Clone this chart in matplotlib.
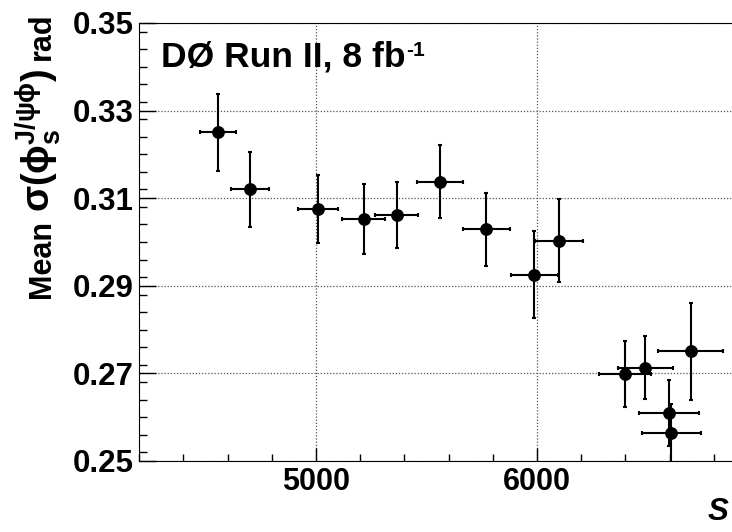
import matplotlib
matplotlib.use("Agg")
import matplotlib.pyplot as plt
from matplotlib.ticker import MultipleLocator
from matplotlib.transforms import IdentityTransform

plt.rcParams['font.family'] = ['Liberation Sans', 'DejaVu Sans']
plt.rcParams['font.weight'] = 'bold'
plt.rcParams['mathtext.fontset'] = 'custom'
plt.rcParams['mathtext.rm'] = 'DejaVu Sans:normal'
plt.rcParams['mathtext.bf'] = 'Liberation Sans:bold'
plt.rcParams['mathtext.it'] = 'DejaVu Sans:italic'
plt.rcParams['mathtext.default'] = 'regular'

# --- data ---
s_vals = [4555, 4702, 5008, 5216, 5366, 5559, 5770, 5988, 6099, 6399, 6491, 6596, 6608, 6697]
s_err = [82, 87, 91, 97, 97, 104, 106, 107, 108, 119, 124, 136, 133, 147]
sigma = [0.3250, 0.3120, 0.3075, 0.3052, 0.3061, 0.3138, 0.3029, 0.2925, 0.3003,
         0.2699, 0.2713, 0.2609, 0.2563, 0.2750]
sigma_err = [0.0088, 0.0086, 0.0077, 0.0080, 0.0075, 0.0083, 0.0083, 0.0099, 0.0095,
             0.0076, 0.0072, 0.0075, 0.0068, 0.0110]

y_ticks = [0.25, 0.27, 0.29, 0.31, 0.33, 0.35]
x_ticks = [5000, 6000]

W, H = 732, 532
fig = plt.figure(figsize=(W / 100, H / 100), dpi=100)
px = IdentityTransform()

# axes frame: left 139.3 px, bottom 461 px, top 23 px, right edge off the picture
ax = fig.add_axes([139.3 / W, 1 - 461 / H, (735.8 - 139.3) / W, (461 - 23) / H])

ax.errorbar(s_vals, sigma, xerr=s_err, yerr=sigma_err, fmt='o', color='black',
            markersize=8.2, elinewidth=1.5, capsize=1.6, capthick=1.5)

ax.set_xlim(4200, 6900)
ax.set_ylim(0.25, 0.35)
ax.set_yticks(y_ticks)
ax.set_yticklabels([f"{v:.2f}" for v in y_ticks])
ax.set_xticks(x_ticks)
ax.xaxis.set_minor_locator(MultipleLocator(200))
ax.yaxis.set_minor_locator(MultipleLocator(0.004))

ax.grid(True, which='major', linestyle=(0, (1, 1.5)), color='#555555', linewidth=0.9)
ax.set_axisbelow(True)

ax.tick_params(axis='both', which='both', direction='in', width=1.0)
ax.tick_params(axis='y', which='major', length=12.5, pad=4.3, labelsize=22.5)
ax.tick_params(axis='y', which='minor', length=5.5)
ax.tick_params(axis='x', which='major', length=9.5, pad=4, labelsize=22)
ax.tick_params(axis='x', which='minor', length=5)
ax.spines['right'].set_visible(False)

fig.canvas.draw()
r = fig.canvas.get_renderer()

# experiment label with a small "-1" superscript
t = fig.text(161, H - 67, "DØ Run II, 8 fb", fontsize=25.5, fontweight='bold',
             va='baseline', ha='left', transform=px)
bb = t.get_window_extent(r)
fig.text(bb.x1 + 1, H - 56.5, "-1", fontsize=15, fontweight='bold',
         va='baseline', ha='left', transform=px)

# y label built from pieces, reading bottom to top
y_cur = H - 298
pieces = [("Mean", 22, 8), (r"$\sigma(\phi_{\mathbf{s}}^{\mathbf{J/}\psi\phi})$", 27.5, 8),
          ("rad", 22, 0)]
for txt, size, gap in pieces:
    tt = fig.text(50, y_cur, txt, fontsize=size, fontweight='bold', rotation=90,
                  rotation_mode='anchor', ha='left', va='baseline', transform=px)
    tb = tt.get_window_extent(r)
    y_cur = tb.y1 + gap

fig.text(729, H - 527, "S", fontsize=22.5, fontweight='bold', fontstyle='italic',
         ha='right', va='bottom', transform=px)

fig.savefig("out.png", dpi=100)
